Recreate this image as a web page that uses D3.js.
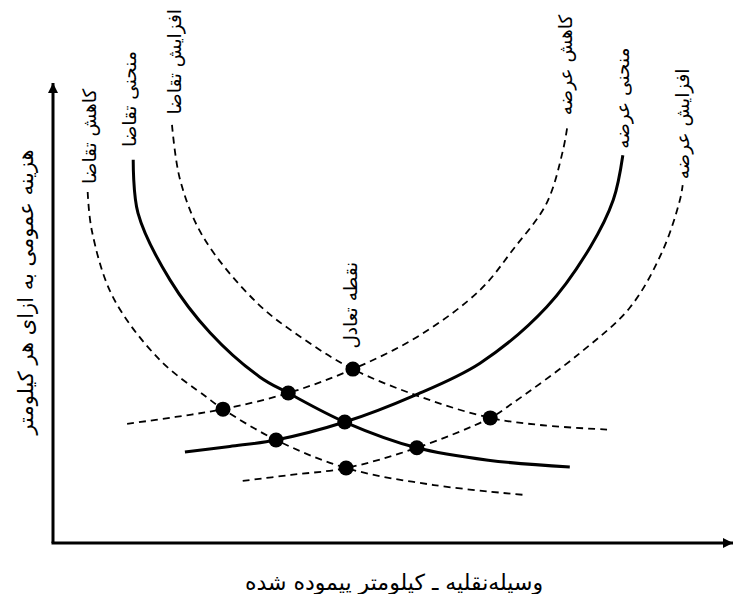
<!DOCTYPE html>
<html>
<head>
<meta charset="utf-8">
<script src="https://cdn.jsdelivr.net/npm/d3@7"></script>
<style>
  body { margin: 0; background: #fff; }
  text { font-family: "DejaVu Sans", sans-serif; fill: #000; }
</style>
</head>
<body>
<div id="chart"></div>
<script>
// curves, in abstract units (x 0-100, y 0-100)
const demandLow = [[5.1,76.3],[5.7,68.0],[8.8,53.5],[15.7,39.8],[22.6,31.7],[25.0,29.1],[32.8,22.4],[43.1,16.3],[56,12.6],[69.7,10.4]];
const demand = [[11.8,83.3],[12.5,71.7],[17.2,57.2],[23.1,45.7],[30.4,36.1],[34.6,32.6],[42.9,26.3],[53.5,20.7],[64,18.0],[76.0,16.5]];
const demandHigh = [[17.5,90.9],[18.7,78.9],[22.1,66.5],[30.0,52.2],[37,44.2],[44.1,37.8],[54.0,31.8],[64.3,27.2],[72,25.6],[82.2,24.6]];
const supplyLow = [[10.9,25.9],[18,27.4],[25.0,29.1],[34.6,32.6],[44.1,37.8],[54,45.2],[62.8,55.0],[67.6,63.7],[72.6,73.9],[75.0,85.4],[75.6,90.2]];
const supply = [[19.4,19.8],[26,21.0],[32.8,22.4],[42.9,26.3],[53,32.0],[62.8,39.1],[72.6,51.3],[79.0,64.3],[82.4,74.6],[83.8,84.3]];
const supplyHigh = [[27.9,13.5],[35,14.8],[43.1,16.3],[53.5,20.7],[64.3,27.2],[67.6,30.4],[77.5,41.3],[84.9,51.3],[89.7,63.7],[92.2,74.6],[92.6,77.8]];

// intersections marked with dots
const dots = [[25.0,29.1],[34.6,32.6],[44.1,37.8],[32.8,22.4],[42.9,26.3],[64.3,27.2],[43.1,16.3],[53.5,20.7]];

const curveLabels = ['کاهش تقاضا','منحنی تقاضا','افزایش تقاضا','کاهش عرضه','منحنی عرضه','افزایش عرضه'];
const equilibriumLabel = 'نقطه تعادل';
const xTitle = 'وسیله‌نقلیه ـ کیلومتر پیموده شده';
const yTitle = 'هزینه عمومی به ازای هر کیلومتر';

const W = 736, H = 594;
const svg = d3.select('#chart').append('svg')
  .attr('width', W)
  .attr('height', H);

const x = d3.scaleLinear().domain([0,100]).range([53,733]);
const y = d3.scaleLinear().domain([0,100]).range([543,83]);

const line = d3.line()
  .x(d => x(d[0]))
  .y(d => y(d[1]))
  .curve(d3.curveCatmullRom.alpha(0.5));

// arrowheads
const defs = svg.append('defs');
defs.append('marker')
  .attr('id','arrow')
  .attr('viewBox','0 0 10 10')
  .attr('refX',10).attr('refY',5)
  .attr('markerWidth',10).attr('markerHeight',10)
  .attr('markerUnits','userSpaceOnUse')
  .attr('orient','auto')
  .append('path')
  .attr('d','M0,0 L10,5 L0,10 z')
  .attr('fill','#000');

// axes
svg.append('path')
  .attr('d', `M${x(0)},${y(0)} L${x(0)},${y(100)}`)
  .attr('stroke','#000').attr('stroke-width',3).attr('fill','none')
  .attr('marker-end','url(#arrow)');
svg.append('path')
  .attr('d', `M${x(0)-1.5},${y(0)} L${x(100)},${y(0)}`)
  .attr('stroke','#000').attr('stroke-width',3).attr('fill','none')
  .attr('marker-end','url(#arrow)');

// curves
const curves = [
  {pts: demandLow, dashed: true},
  {pts: demand, dashed: false},
  {pts: demandHigh, dashed: true},
  {pts: supplyLow, dashed: true},
  {pts: supply, dashed: false},
  {pts: supplyHigh, dashed: true}
];

svg.selectAll('.curve')
  .data(curves)
  .join('path')
  .attr('class','curve')
  .attr('d', d => line(d.pts))
  .attr('fill','none')
  .attr('stroke','#000')
  .attr('stroke-width', d => d.dashed ? 1.8 : 3)
  .attr('stroke-dasharray', d => d.dashed ? '7,5' : null);

svg.selectAll('.dot')
  .data(dots)
  .join('circle')
  .attr('class','dot')
  .attr('cx', d => x(d[0]))
  .attr('cy', d => y(d[1]))
  .attr('r', 7.5)
  .attr('fill','#000');

// rotated labels at the top of each curve (centre points in chart units)
const labelPos = [[5.4,88.4],[11.3,96.5],[17.9,104.6],[75.3,103.9],[83.8,96.7],[92.6,91.1]];
svg.selectAll('.clabel')
  .data(curveLabels)
  .join('text')
  .attr('class','clabel')
  .attr('transform', (d,i) => `translate(${x(labelPos[i][0])},${y(labelPos[i][1])}) rotate(-90)`)
  .attr('text-anchor','middle')
  .attr('dy','0.35em')
  .attr('font-size', 18.5)
  .text(d => d);

svg.append('text')
  .attr('transform', `translate(${x(43.7)},${y(51.7)}) rotate(-90)`)
  .attr('text-anchor','middle')
  .attr('dy','0.35em')
  .attr('font-size', 18.5)
  .text(equilibriumLabel);

svg.append('text')
  .attr('transform', `translate(26,292) rotate(-90)`)
  .attr('text-anchor','middle')
  .attr('dy','0.35em')
  .attr('font-size', 21)
  .text(yTitle);

svg.append('text')
  .attr('x', 394)
  .attr('y', 582)
  .attr('text-anchor','middle')
  .attr('dy','0.35em')
  .attr('font-size', 22)
  .text(xTitle);
</script>
</body>
</html>
